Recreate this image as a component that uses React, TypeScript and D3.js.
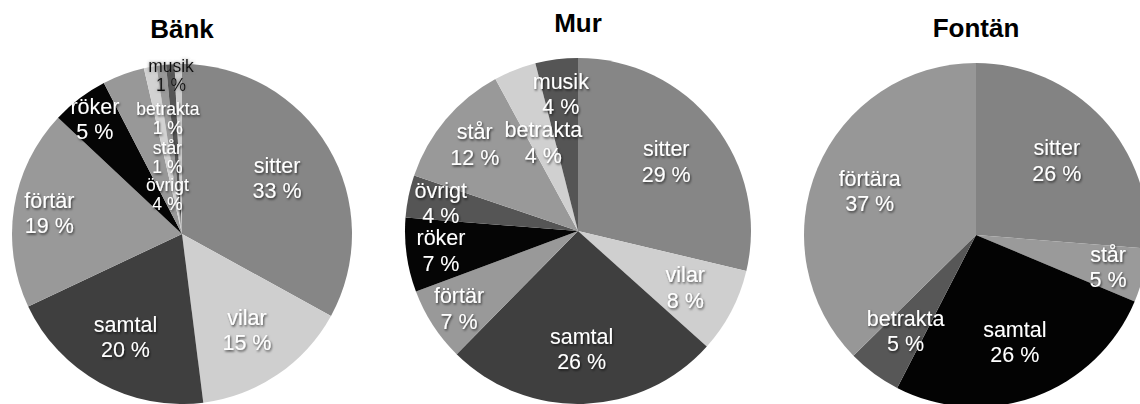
import React from 'react';
import * as d3 from 'd3';

// ---- data ----
const titles = ['Bänk', 'Mur', 'Fontän'];

const bankCategories = ['sitter', 'vilar', 'samtal', 'förtär', 'röker', 'övrigt', 'står', 'betrakta', 'musik', ''];
const bankValues = [33, 15, 20, 19, 5.4, 4, 1.2, 0.9, 0.8, 0.7];

const murCategories = ['sitter', 'vilar', 'samtal', 'förtär', 'röker', 'övrigt', 'står', 'betrakta', 'musik'];
const murValues = [29, 8, 26, 7, 7, 4, 12, 4, 4];

const fontanCategories = ['sitter', 'står', 'samtal', 'betrakta', 'förtära'];
const fontanValues = [26, 5, 26, 5, 37];

// ---- styles / layout ----
const bankColors = ['#868686', '#cfcfcf', '#3f3f3f', '#999999', '#050505', '#989898', '#d2d2d2', '#9a9a9a', '#555555', '#cccccc'];
const murColors = ['#868686', '#cfcfcf', '#3f3f3f', '#999999', '#050505', '#555555', '#999999', '#d0d0d0', '#555555'];
const fontanColors = ['#838383', '#9a9a9a', '#030303', '#575757', '#979797'];

const bankLabelR = [0.65, 0.68, 0.69, 0.79, 0.85, 0.25, 0.46, 0.685, 0.935, 0];
const murLabelR = [0.65, 0.7, 0.68, 0.82, 0.8, 0.81, 0.78, 0.55, 0.8];
const fontanLabelR = [0.64, 0.79, 0.66, 0.69, 0.67];

const bankFont = [21.5, 21.5, 21.5, 21.5, 21.5, 17.5, 17.5, 17.5, 17.5, 17.5];
const bankText = ['#fff', '#fff', '#fff', '#fff', '#fff', '#fff', '#fff', '#fff', '#111111', '#fff'];

const charts = [
  { title: titles[0], cats: bankCategories, vals: bankValues, colors: bankColors, lr: bankLabelR, fonts: bankFont, textColors: bankText, cx: 182, cy: 234, r: 170, ty: 38 },
  { title: titles[1], cats: murCategories, vals: murValues, colors: murColors, lr: murLabelR, fonts: murValues.map(() => 21.5), textColors: murValues.map(() => '#fff'), cx: 578, cy: 231, r: 173, ty: 32 },
  { title: titles[2], cats: fontanCategories, vals: fontanValues, colors: fontanColors, lr: fontanLabelR, fonts: fontanValues.map(() => 21.5), textColors: fontanValues.map(() => '#fff'), cx: 976, cy: 235, r: 172, ty: 37 },
];

const FONT = '"Liberation Sans", Arial, Helvetica, sans-serif';

function Pie({ c }: { c: any }) {
  const pie = d3.pie<number>().sort(null).value((d) => d);
  const arcs = pie(c.vals);
  const arc = d3.arc<d3.PieArcDatum<number>>().innerRadius(0).outerRadius(c.r);
  return (
    <g>
      <text x={c.cx} y={c.ty} textAnchor="middle" fontFamily={FONT} fontWeight="bold" fontSize={26} fill="#000">
        {c.title}
      </text>
      <g transform={`translate(${c.cx},${c.cy})`}>
        {arcs.map((a, i) => (
          <path key={i} d={arc(a) || ''} fill={c.colors[i]} />
        ))}
        {arcs.map((a, i) => {
          if (!c.cats[i]) return null;
          const mid = (a.startAngle + a.endAngle) / 2;
          const rr = c.lr[i] * c.r;
          const x = Math.sin(mid) * rr;
          const y = -Math.cos(mid) * rr;
          const fs = c.fonts[i];
          const lh = fs * (fs < 20 ? 1.06 : 1.18);
          const dark = c.textColors[i] !== '#fff';
          return (
            <text
              key={'l' + i}
              textAnchor="middle"
              fontFamily={FONT}
              fontSize={fs}
              fill={c.textColors[i]}
              filter={dark ? `url(#shLight)` : `url(#shDark)`}
            >
              <tspan x={x} y={y - lh / 2 + fs * 0.36}>{c.cats[i]}</tspan>
              <tspan x={x} y={y + lh / 2 + fs * 0.36}>{`${Math.round(c.vals[i])} %`}</tspan>
            </text>
          );
        })}
      </g>
    </g>
  );
}

export default function App() {
  return (
    <svg width={1140} height={404} style={{ position: 'absolute', left: 0, top: 0, background: '#fff' }}>
      <defs>
        <filter id="shDark" x="-20%" y="-20%" width="140%" height="140%">
          <feDropShadow dx="1" dy="1.5" stdDeviation="1.2" floodColor="#000" floodOpacity="0.65" />
        </filter>
        <filter id="shLight" x="-20%" y="-20%" width="140%" height="140%">
          <feDropShadow dx="0" dy="0" stdDeviation="1.5" floodColor="#666" floodOpacity="0.9" />
        </filter>
      </defs>
      {charts.map((c, i) => (
        <Pie key={i} c={c} />
      ))}
    </svg>
  );
}
